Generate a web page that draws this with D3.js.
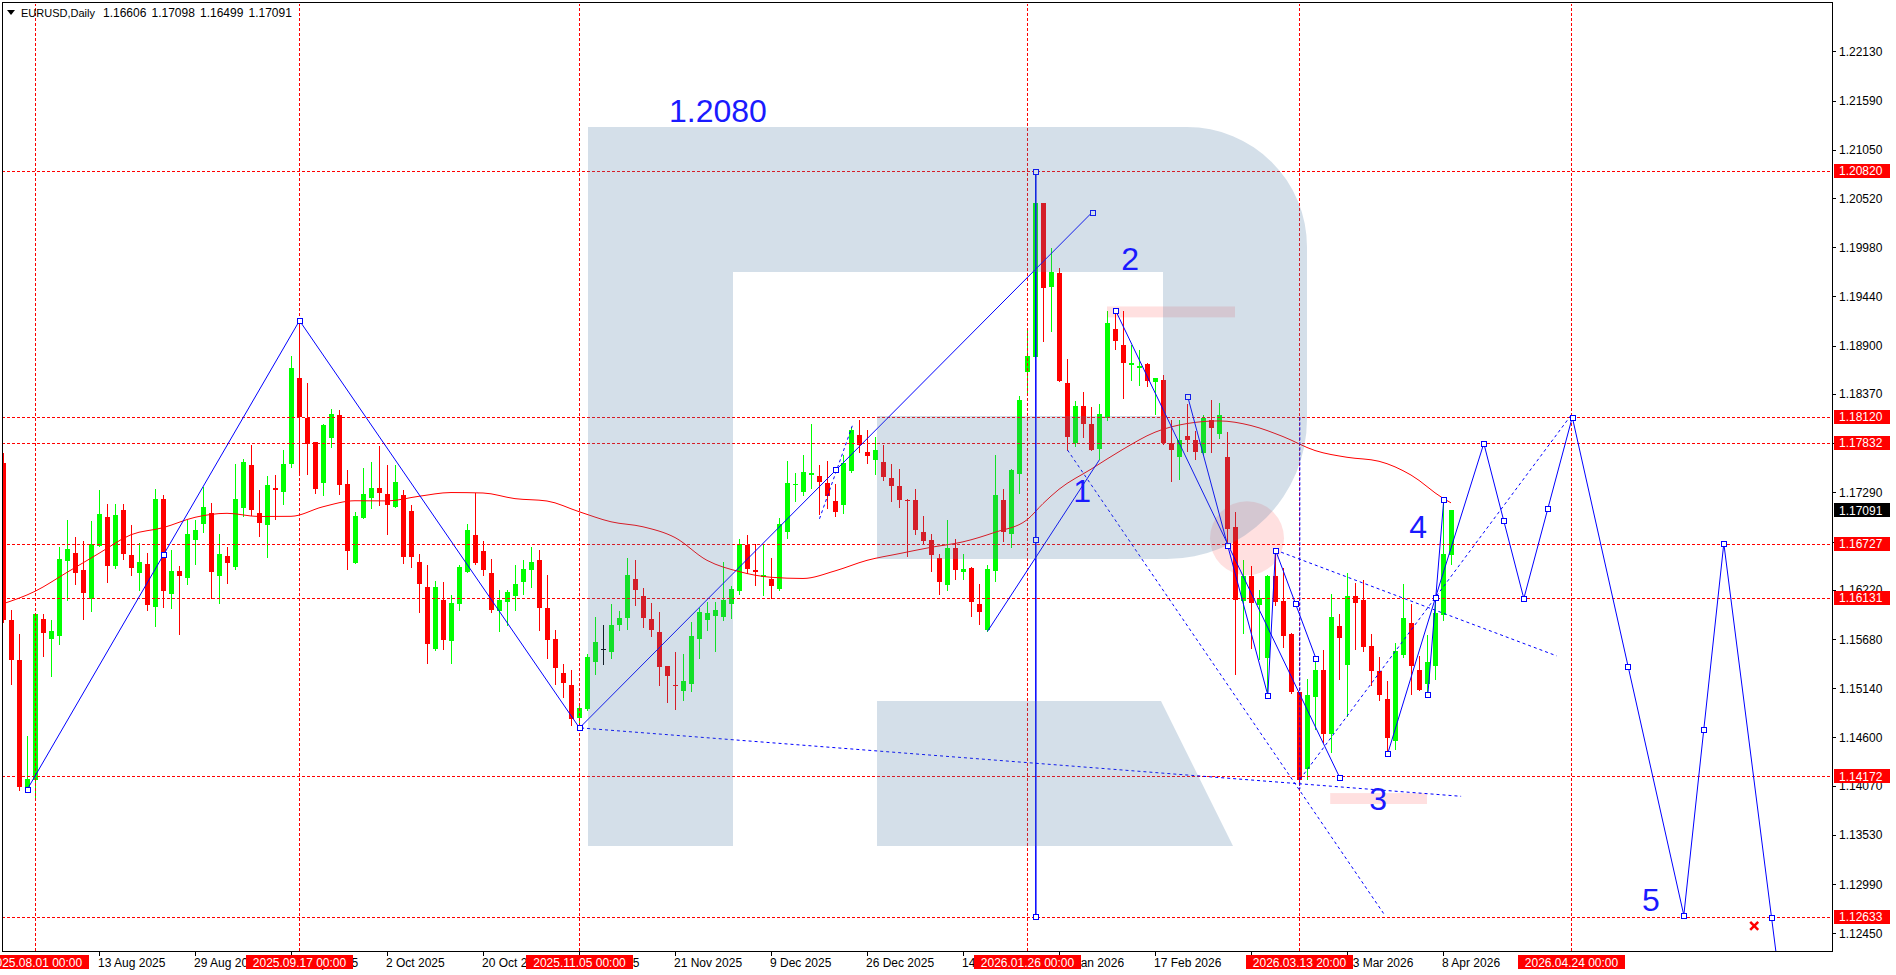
<!DOCTYPE html>
<html><head><meta charset="utf-8">
<script src="https://cdn.jsdelivr.net/npm/d3@7"></script>
<style>
body{margin:0;background:#fff;overflow:hidden}
svg{display:block}
text{font-family:"Liberation Sans",Arial,sans-serif}
</style></head>
<body><svg id="c" width="1896" height="975"></svg>
<script>
// ---------------- DATA ----------------
const symbolTitle = "EURUSD,Daily";
const headerValues = ["1.16606","1.17098","1.16499","1.17091"];
const firstIndex = -4; // bar index of the first candle (2025.07.28)
const opens = [1.17609,1.15885,1.15454,1.14055,1.14129,1.15904,1.1568,1.15713,1.16533,1.16629,1.16442,1.16119,1.16701,1.17019,1.16478,1.17093,1.16599,1.16404,1.16508,1.16031,1.17214,1.16174,1.16431,1.16349,1.16764,1.16939,1.17068,1.16371,1.16588,1.1647,1.17118,1.17587,1.17068,1.16928,1.17338,1.17294,1.17606,1.18542,1.18111,1.17843,1.17393,1.17887,1.18136,1.17387,1.16514,1.17008,1.17228,1.17335,1.17269,1.17129,1.17258,1.17082,1.16525,1.16251,1.15567,1.16105,1.15655,1.16061,1.16415,1.16819,1.16643,1.16404,1.15984,1.16086,1.16149,1.16306,1.16434,1.16544,1.16025,1.15685,1.15311,1.15172,1.14817,1.14908,1.15424,1.15567,1.15534,1.1583,1.15912,1.16343,1.16149,1.15896,1.15754,1.15383,1.15172,1.15109,1.15183,1.1568,1.15885,1.15929,1.15921,1.16069,1.16204,1.16709,1.16434,1.1636,1.16336,1.16226,1.16855,1.17375,1.17294,1.17477,1.17466,1.17393,1.17192,1.17156,1.17521,1.17917,1.1773,1.1765,1.1762,1.17444,1.17357,1.17211,1.17203,1.16852,1.16764,1.1657,1.1627,1.1668,1.16415,1.16459,1.16069,1.15776,1.16426,1.17211,1.16838,1.17488,1.18611,1.18777,1.20462,1.19546,1.19694,1.18485,1.17833,1.18235,1.18037,1.17763,1.18111,1.1908,1.18905,1.18688,1.1866,1.18696,1.18502,1.18521,1.17833,1.17679,1.17906,1.17862,1.17722,1.18081,1.17928,1.17679,1.1691,1.16097,1.16369,1.1605,1.15476,1.16369,1.16094,1.15739,1.15098,1.14256,1.15044,1.15344,1.14641,1.1582,1.15391,1.16149,1.16105,1.156,1.15328,1.15018,1.1456,1.15501,1.15856,1.15336,1.15183,1.15383,1.1594,1.16606];
const highs = [1.17719,1.15995,1.15732,1.14612,1.15959,1.15959,1.15885,1.1669,1.16991,1.168,1.16756,1.16972,1.17313,1.17159,1.17159,1.17159,1.16928,1.16739,1.16629,1.17324,1.17258,1.16654,1.16478,1.16983,1.16983,1.17349,1.17178,1.1683,1.1669,1.17598,1.17661,1.17807,1.17313,1.17466,1.17477,1.17752,1.18784,1.1918,1.18485,1.17843,1.18045,1.18202,1.18191,1.1754,1.17074,1.17557,1.17623,1.17796,1.17587,1.17595,1.17313,1.17148,1.16618,1.16489,1.16317,1.16306,1.1616,1.16489,1.16947,1.17283,1.16756,1.16555,1.16223,1.16215,1.16489,1.16552,1.1669,1.16662,1.16379,1.15776,1.1541,1.15336,1.14952,1.15519,1.15924,1.1583,1.16061,1.15984,1.1657,1.16544,1.16245,1.1608,1.15976,1.15383,1.15537,1.15512,1.15866,1.16025,1.16086,1.16086,1.16525,1.16259,1.16783,1.16819,1.16728,1.16728,1.16574,1.17008,1.17631,1.17499,1.17697,1.18045,1.17587,1.17631,1.17379,1.17697,1.18008,1.18081,1.17972,1.17898,1.17807,1.17598,1.17551,1.17222,1.17324,1.17027,1.1683,1.16618,1.16991,1.16775,1.16618,1.1647,1.16281,1.16489,1.17697,1.17324,1.17551,1.18345,1.1907,1.2082,1.20462,1.19968,1.19749,1.18748,1.1829,1.18389,1.18228,1.18265,1.19278,1.1927,1.19278,1.18905,1.1885,1.1871,1.1855,1.18575,1.18081,1.18081,1.18257,1.17964,1.18144,1.18301,1.18276,1.17953,1.17074,1.16552,1.16478,1.16215,1.16379,1.16662,1.16463,1.1575,1.15098,1.15245,1.15446,1.15556,1.16171,1.15951,1.16401,1.16292,1.16325,1.15732,1.15482,1.15219,1.15636,1.16281,1.16069,1.1549,1.15721,1.16105,1.17222,1.17098];
const lows = [1.15863,1.15191,1.14027,1.14038,1.1393,1.1549,1.1527,1.1563,1.16105,1.16281,1.15896,1.15987,1.16701,1.16303,1.16459,1.16558,1.16379,1.16215,1.16003,1.15819,1.16031,1.1602,1.15732,1.16281,1.165,1.16855,1.16135,1.16075,1.16295,1.16452,1.17027,1.17038,1.16811,1.1658,1.17002,1.17159,1.17568,1.17496,1.17488,1.17283,1.17258,1.17788,1.17277,1.16445,1.16514,1.17008,1.17118,1.17156,1.16838,1.17129,1.16514,1.1647,1.15976,1.15416,1.15556,1.15575,1.15416,1.16003,1.16415,1.16508,1.16379,1.15976,1.15768,1.1583,1.16003,1.16179,1.16251,1.15776,1.15471,1.15191,1.15043,1.14732,1.1471,1.14897,1.153,1.1541,1.15476,1.15783,1.15794,1.1605,1.15811,1.15713,1.1518,1.14988,1.14916,1.15015,1.15109,1.15471,1.15776,1.15548,1.15893,1.15912,1.16179,1.16404,1.1627,1.1616,1.16135,1.16215,1.16789,1.17195,1.17266,1.17338,1.17049,1.17118,1.1703,1.17063,1.17513,1.17733,1.17612,1.17488,1.1743,1.17195,1.1713,1.16588,1.16838,1.16728,1.16426,1.16171,1.16215,1.16343,1.16343,1.15929,1.1585,1.1577,1.16317,1.16756,1.1669,1.17283,1.18378,1.18777,1.18952,1.19063,1.1851,1.1776,1.178,1.17899,1.1775,1.17653,1.18089,1.18861,1.18326,1.18521,1.18466,1.18455,1.18155,1.17826,1.17415,1.17434,1.17745,1.17653,1.17715,1.17733,1.17887,1.16728,1.153,1.15746,1.15585,1.15465,1.1508,1.1605,1.15592,1.1509,1.14107,1.14147,1.14696,1.14549,1.14439,1.15245,1.1484,1.15575,1.15548,1.15172,1.15015,1.14458,1.14469,1.15482,1.1508,1.15117,1.1508,1.15245,1.15893,1.16499];
const closes = [1.15885,1.15446,1.14055,1.14147,1.15959,1.15746,1.15768,1.16563,1.16673,1.16404,1.1619,1.16728,1.17057,1.16478,1.17038,1.1661,1.16459,1.16522,1.1605,1.17214,1.16207,1.16423,1.16371,1.1683,1.16874,1.17126,1.16415,1.16618,1.16514,1.17214,1.17623,1.17093,1.16953,1.17368,1.17321,1.17606,1.1866,1.18117,1.17826,1.17324,1.18026,1.18155,1.17368,1.16646,1.17027,1.17277,1.17343,1.17283,1.17156,1.17401,1.1658,1.1658,1.16281,1.1563,1.16251,1.15666,1.16075,1.1647,1.16881,1.16514,1.16434,1.15995,1.16105,1.16196,1.16281,1.16445,1.16525,1.16017,1.15666,1.15361,1.15197,1.14801,1.14927,1.15482,1.15644,1.15567,1.1583,1.15912,1.16379,1.16215,1.15907,1.15776,1.15372,1.1527,1.15161,1.15216,1.1571,1.15973,1.15965,1.15995,1.16105,1.16234,1.1672,1.16445,1.16415,1.16379,1.16262,1.16939,1.1739,1.1738,1.1751,1.17499,1.17404,1.17247,1.17074,1.17617,1.17972,1.17807,1.17686,1.17752,1.17459,1.17357,1.17203,1.17203,1.16874,1.16756,1.16599,1.16306,1.1668,1.16434,1.16445,1.16086,1.15973,1.16452,1.17258,1.16855,1.1754,1.18301,1.18784,1.20462,1.19528,1.19708,1.18513,1.17899,1.18243,1.18037,1.17752,1.18147,1.1915,1.18949,1.1871,1.1871,1.18682,1.18513,1.18543,1.17833,1.17752,1.17862,1.17862,1.17733,1.18107,1.17997,1.18136,1.16892,1.16105,1.16369,1.16075,1.1613,1.16369,1.16086,1.15713,1.15098,1.14129,1.15062,1.15344,1.14641,1.15924,1.15691,1.16149,1.16075,1.15592,1.15328,1.15062,1.14598,1.15548,1.15912,1.15383,1.15124,1.15428,1.15965,1.16618,1.17091];

// moving average
const maIndex  = [-4,0,4,8,12,16,20,24,28,32,36,40,44,48,52,56,60,64,68,72,76,80,84,88,92,96,100,104,108,112,116,120,124,126,128,132,136,140,144,148,152,156,160,164,168,172,176,177];
const maValues = [1.16067,1.16204,1.16412,1.16621,1.16825,1.16902,1.17016,1.1706,1.17025,1.17027,1.17132,1.17198,1.17196,1.17247,1.17288,1.17283,1.17221,1.17195,1.17078,1.16967,1.16912,1.16794,1.16544,1.16421,1.16358,1.16345,1.16428,1.16544,1.16617,1.16687,1.16747,1.16852,1.16989,1.17167,1.17324,1.17544,1.17763,1.1795,1.18045,1.18074,1.18023,1.17902,1.17749,1.17675,1.17631,1.1748,1.17225,1.17175];

// price axis
const priceTicks = [1.22130,1.21590,1.21050,1.20520,1.19980,1.19440,1.18900,1.18370,1.17830,1.17290,1.16750,1.16220,1.15680,1.15140,1.14600,1.14070,1.13530,1.12990,1.12450];
const levelPrices = [1.20820,1.18120,1.17832,1.16727,1.16131,1.14172,1.12633];
const currentPrice = 1.17091;

// time axis
const dateTickIndex  = [8,20,32,44,56,68,80,92,104,116,128,140,152,164,176];
const dateTickLabels = ["13 Aug 2025","29 Aug 2025","16 Sep 2025","2 Oct 2025","20 Oct 2025","5 Nov 2025","21 Nov 2025","9 Dec 2025","26 Dec 2025","14 Jan 2026","30 Jan 2026","17 Feb 2026","5 Mar 2026","23 Mar 2026","8 Apr 2026"];
const markerIndex  = [0,33,68,124,158,192];
const markerLabels = ["2025.08.01 00:00","2025.09.17 00:00","2025.11.05 00:00","2026.01.26 00:00","2026.03.13 20:00","2026.04.24 00:00"];

// analysis drawings: [barIndex, price]
const waveLine   = [[-1,1.1404],[33,1.1918],[68,1.1471],[132.1,1.2037]];
const waveMarks  = [[-1,1.1404],[16,1.16618],[33,1.1918],[68,1.1471],[132.1,1.2037]];
const lineE      = [[119,1.1577],[133,1.17654]];
const lineA      = [[135.04,1.19286],[163.04,1.14164]];
const lineAMarks = [[135.04,1.19286],[149.04,1.16709],[163.04,1.14164]];
const lineB      = [[144.04,1.18342],[154.04,1.1507],[155,1.16662],[160.04,1.15476]];
const lineBMarks = [[144.04,1.18342],[154.04,1.1507],[155,1.16662],[157.5,1.16075],[160.04,1.15476]];
const lineM1     = [[169.04,1.14433],[175,1.16141]];
const lineM2     = [[174.04,1.15073],[176.04,1.17222]];
const projection = [[175,1.16141],[181.04,1.17832],[186.04,1.16131],[192.1,1.1812],[206.04,1.12655],[211.04,1.16735],[217,1.12633],[218,1.1195]];
const projMarks  = [[169.04,1.14433],[174.04,1.15073],[175,1.16141],[176.04,1.17222],[181.04,1.17832],[183.54,1.16983],[186.04,1.16131],[189.04,1.17115],[192.1,1.1812],[199.04,1.15381],[206.04,1.12655],[208.54,1.14697],[211.04,1.16735],[217,1.12633]];
const dotted1 = [[68.2,1.1471],[178.2,1.1396]];
const dotted2 = [[129,1.1776],[168.7,1.1265]];
const dotted3 = [[155,1.16662],[190.15,1.15501]];
const dotted4 = [[158.1,1.14151],[192.1,1.1816]];
const dotted5 = [[98,1.17005],[102.1,1.18026]];
const dotted5Mark = [[100.04,1.17542]];
const vLine1 = [[125.04,1.2082],[125.04,1.1264]];
const vLine1Marks = [[125.04,1.2082],[125.04,1.16781],[125.04,1.1264]];
const vLine2 = [[158.04,1.1812],[158.04,1.1404]];
const pinkRects = [[134,150,1.1933,1.1921],[161.9,174,1.1399,1.1387]];
const pinkCircle = [151.5,1.16786];
const waveLabels = [["1.2080",79.25,1.21354,"start"],["2",136.9,1.19728,"middle"],["1",130.9,1.17183,"middle"],["3",167.9,1.13799,"middle"],["4",172.9,1.16786,"middle"],["5",202,1.12695,"middle"]];
const crossMark = [214.9,1.12533];

// ---------------- DRAW ----------------
const W=1896,H=975;
const plot={l:2,t:3,r:1832,b:951};
const svg=d3.select("#c");
const x=d3.scaleLinear().domain([0,177]).range([35,1451]);
const y=d3.scaleLinear().domain([1.12257,1.22660]).range([plot.b,plot.t]);
const px=i=>Math.round(x(i));
const py=p=>Math.round(y(p));

svg.append("rect").attr("width",W).attr("height",H).attr("fill","#fff");
svg.append("defs").append("clipPath").attr("id","clip").append("rect")
  .attr("x",plot.l+1).attr("y",plot.t+1).attr("width",plot.r-plot.l-1).attr("height",plot.b-plot.t-1);
const g=svg.append("g").attr("clip-path","url(#clip)");

const BLUE="#0000ff", RED="#ff0000", GREEN="#00ff00";

// candles
const bars=opens.map((o,k)=>({i:firstIndex+k,o,h:highs[k],l:lows[k],c:closes[k]}));
const col=d=>d.c>d.o?GREEN:(d.c<d.o?RED:"#000");
const cg=g.append("g").attr("shape-rendering","crispEdges");
cg.selectAll("line.w").data(bars).join("line")
  .attr("x1",d=>px(d.i)+0.5).attr("x2",d=>px(d.i)+0.5)
  .attr("y1",d=>py(d.h)).attr("y2",d=>py(d.l)+1)
  .attr("stroke",col).attr("stroke-width",1);
cg.selectAll("rect.b").data(bars).join("rect")
  .attr("x",d=>px(d.i)-2).attr("width",5)
  .attr("y",d=>py(Math.max(d.o,d.c)))
  .attr("height",d=>Math.max(1,py(Math.min(d.o,d.c))-py(Math.max(d.o,d.c))))
  .attr("fill",col);

// moving average
const ma=maIndex.map((i,k)=>({i,v:maValues[k]}));
g.append("path").datum(ma)
  .attr("d",d3.line().x(d=>x(d.i)).y(d=>y(d.v)).curve(d3.curveMonotoneX))
  .attr("fill","none").attr("stroke",RED).attr("stroke-width",1);

// red dashed levels and time markers
const lg=g.append("g").attr("shape-rendering","crispEdges");
lg.selectAll("line.h").data(levelPrices).join("line")
  .attr("x1",plot.l).attr("x2",plot.r).attr("y1",d=>py(d)+0.5).attr("y2",d=>py(d)+0.5)
  .attr("stroke",RED).attr("stroke-dasharray","3,2");
lg.selectAll("line.v").data(markerIndex).join("line")
  .attr("y1",plot.t).attr("y2",plot.b).attr("x1",d=>px(d)+0.5).attr("x2",d=>px(d)+0.5)
  .attr("stroke",RED).attr("stroke-dasharray","3,2");

// pink shapes
g.selectAll("rect.pk").data(pinkRects).join("rect")
  .attr("x",d=>x(d[0])).attr("width",d=>x(d[1])-x(d[0]))
  .attr("y",d=>y(d[2])).attr("height",d=>y(d[3])-y(d[2]))
  .attr("fill","rgba(255,0,0,0.12)");
g.append("circle").attr("cx",x(pinkCircle[0])).attr("cy",y(pinkCircle[1])).attr("r",37)
  .attr("fill","rgba(255,0,0,0.12)");

// blue drawings
const ln=d3.line().x(d=>x(d[0])+0.5).y(d=>y(d[1])+0.5);
const bg=g.append("g");
function drawLine(pts,dash,w){
  bg.append("path").attr("d",ln(pts)).attr("fill","none").attr("stroke",BLUE)
    .attr("stroke-width",w||1).attr("stroke-dasharray",dash||null);
}
[waveLine,lineE,lineA,lineB,lineM1,lineM2,projection].forEach(p=>drawLine(p));
[dotted1,dotted2,dotted3,dotted4,dotted5].forEach(p=>drawLine(p,"3,3"));
drawLine(vLine1,null,1.5);
drawLine(vLine2,"3,2");
const marks=[].concat(waveMarks,lineAMarks,lineBMarks,projMarks,dotted5Mark,vLine1Marks);
bg.selectAll("rect.m").data(marks).join("rect")
  .attr("x",d=>px(d[0])-2).attr("y",d=>py(d[1])-2).attr("width",5).attr("height",5)
  .attr("fill","#fff").attr("stroke",BLUE).attr("stroke-width",1).attr("shape-rendering","crispEdges");

// watermark logo overlay
g.append("path")
  .attr("d","M588,127 H1187 A120,120 0 0 1 1307,247 V419 A140,140 0 0 1 1167,559 H877 V416 H1163 V272 H733 V846 H588 Z M877,701 H1161 L1233,846 H877 Z")
  .attr("fill","rgb(78,123,164)").attr("fill-opacity",0.243);

// wave labels
g.selectAll("text.wl").data(waveLabels).join("text")
  .attr("x",d=>x(d[1])).attr("y",d=>y(d[2])).attr("text-anchor",d=>d[3])
  .attr("font-size",32).attr("fill","#1a1aff").text(d=>d[0]);
const cx0=x(crossMark[0]), cy0=y(crossMark[1]);
g.append("path").attr("d",`M${cx0-4},${cy0-4}L${cx0+4},${cy0+4}M${cx0+4},${cy0-4}L${cx0-4},${cy0+4}`)
  .attr("stroke",RED).attr("stroke-width",2.5);

// header
svg.append("path").attr("d","M7,10 H15 L11,15 Z").attr("fill","#000");
svg.append("text").attr("x",21).attr("y",17).attr("font-size",11).text(symbolTitle);
svg.selectAll("text.hv").data(headerValues).join("text")
  .attr("x",(d,k)=>103+k*48.5).attr("y",17).attr("font-size",12).text(d=>d);

// frame
svg.append("rect").attr("x",plot.l+0.5).attr("y",plot.t-0.5).attr("width",plot.r-plot.l).attr("height",plot.b-plot.t+1)
  .attr("fill","none").attr("stroke","#000").attr("shape-rendering","crispEdges");

// price axis
const ax=svg.append("g").attr("shape-rendering","crispEdges");
ax.selectAll("line.t").data(priceTicks).join("line")
  .attr("x1",plot.r).attr("x2",plot.r+4).attr("y1",d=>py(d)+0.5).attr("y2",d=>py(d)+0.5).attr("stroke","#000");
ax.selectAll("text.t").data(priceTicks).join("text")
  .attr("x",1839).attr("y",d=>y(d)+4.5).attr("font-size",12).attr("fill","#000").text(d=>d.toFixed(5));
const boxes=levelPrices.map(p=>({p,bg:RED})).concat([{p:currentPrice,bg:"#000"}]);
ax.selectAll("rect.pb").data(boxes).join("rect")
  .attr("x",1834).attr("width",56).attr("y",d=>py(d.p)-7).attr("height",14).attr("fill",d=>d.bg);
ax.selectAll("text.pb").data(boxes).join("text")
  .attr("x",1839).attr("y",d=>y(d.p)+4.5).attr("font-size",12).attr("fill","#fff").text(d=>d.p.toFixed(5));

// time axis
ax.selectAll("line.d").data(dateTickIndex).join("line")
  .attr("x1",d=>px(d)+0.5).attr("x2",d=>px(d)+0.5).attr("y1",plot.b).attr("y2",plot.b+5).attr("stroke","#000");
ax.selectAll("text.d").data(dateTickIndex).join("text")
  .attr("x",d=>px(d)-1).attr("y",967).attr("font-size",12).text((d,k)=>dateTickLabels[k]);
ax.selectAll("rect.mk").data(markerIndex).join("rect")
  .attr("x",d=>px(d)-53).attr("width",107).attr("y",955).attr("height",14).attr("fill",RED);
ax.selectAll("text.mk").data(markerIndex).join("text")
  .attr("x",d=>px(d)+0.5).attr("y",966.5).attr("text-anchor","middle").attr("font-size",12).attr("fill","#fff")
  .text((d,k)=>markerLabels[k]);
</script></body></html>
